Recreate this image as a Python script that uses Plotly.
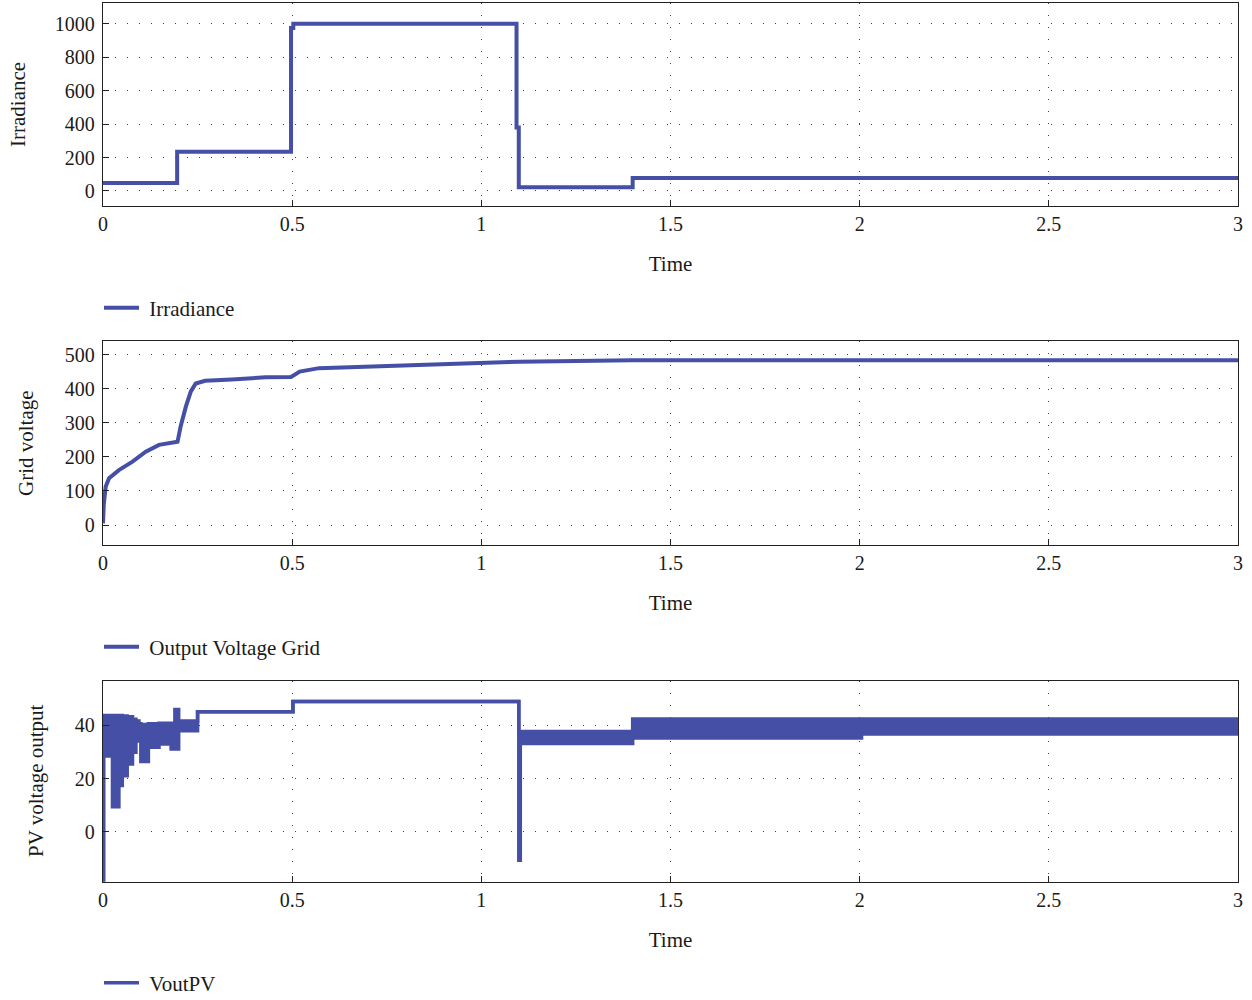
import plotly.graph_objects as go
from plotly.subplots import make_subplots

# ---------------- data ----------------
# Irradiance (step signal)
irr_t = [0.0, 0.196, 0.497, 0.503, 1.093, 1.099, 1.400, 3.0]
irr_v = [48, 235, 975, 1000, 380, 22, 77, 77]

# Grid output voltage
grid_t = [0.0, 0.002, 0.007, 0.016, 0.042, 0.078, 0.113, 0.148, 0.197, 0.205, 0.219,
          0.232, 0.245, 0.27, 0.34, 0.43, 0.497, 0.52, 0.571, 0.73, 0.85, 1.0, 1.1,
          1.4, 2.0, 2.5, 3.0]
grid_v = [5, 60, 112, 137, 161, 186, 215, 235, 244, 288, 347,
          391, 415, 423, 427, 433, 434, 450, 460, 466, 472, 477, 479,
          483, 483, 483, 483]

# PV output voltage: upper / lower envelope of the fast ripple
pv_t  = [0.0, 0.002, 0.020, 0.025, 0.037, 0.042, 0.051, 0.064, 0.078, 0.087, 0.095,
         0.100, 0.115, 0.120, 0.148, 0.180, 0.190, 0.200, 0.237, 0.250, 0.497,
         0.502, 1.093, 1.099, 1.103, 1.397, 1.400, 2.000, 2.005, 3.0]
pv_hi = [43.6, 43.6, 43.6, 43.6, 43.6, 43.6, 43.4, 43.1, 42.2, 41.5, 40.5,
         40.2, 40.2, 40.5, 40.7, 40.7, 45.8, 41.5, 41.5, 45.0, 45.0,
         48.8, 48.8, 37.6, 37.6, 37.6, 42.3, 42.3, 42.3, 42.3]
pv_lo = [-18.0, 28.4, 28.4, 9.4, 9.4, 17.4, 21.0, 25.4, 29.8, 34.0, 40.2,
         26.4, 26.4, 31.7, 32.9, 31.0, 31.0, 37.9, 37.9, 45.0, 45.0,
         48.8, 48.8, -10.6, 33.1, 33.1, 35.2, 35.2, 36.7, 36.7]

x_ticks = [0, 0.5, 1, 1.5, 2, 2.5, 3]
x_tick_text = ["0", "0.5", "1", "1.5", "2", "2.5", "3"]

ytitles = ["Irradiance", "Grid voltage", "PV voltage output"]
legend_names = ["Irradiance", "Output Voltage Grid", "VoutPV"]

LINE = "#444fa5"
FONT = "Liberation Serif"
TXT = "#1a1a1a"
W, H = 1252, 1000
ML, MR = 103, 14

fig = make_subplots(rows=3, cols=1)

fig.add_trace(go.Scatter(x=irr_t, y=irr_v, mode="lines", line=dict(color=LINE, width=4, shape="hv"),
                         name="\u00a0" + legend_names[0], legend="legend"), row=1, col=1)
fig.add_trace(go.Scatter(x=grid_t, y=grid_v, mode="lines", line=dict(color=LINE, width=4),
                         name="\u00a0" + legend_names[1], legend="legend2"), row=2, col=1)
fig.add_trace(go.Scatter(x=pv_t, y=pv_lo, mode="lines", line=dict(color=LINE, width=3.5, shape="hv"),
                         name="\u00a0" + legend_names[2], legend="legend3"), row=3, col=1)
fig.add_trace(go.Scatter(x=pv_t, y=pv_hi, mode="lines", line=dict(color=LINE, width=3.5, shape="hv"),
                         fill="tonexty", fillcolor=LINE, showlegend=False), row=3, col=1)

domains = [(0.794, 0.997), (0.455, 0.659), (0.118, 0.319)]
yranges = [(-90, 1124), (-58.6, 539.6), (-18.75, 56.5)]
ydticks = [200, 100, 20]

axis_common = dict(showline=True, linecolor="#222", linewidth=1.3, mirror=True,
                   ticks="inside", ticklen=6, tickcolor="#222", tickwidth=1.3,
                   showgrid=True, gridcolor="#444", gridwidth=1.4, griddash="1.4px,10.6px",
                   zeroline=False, tickfont=dict(family=FONT, size=20, color=TXT))

for i in range(3):
    xa = "xaxis" if i == 0 else f"xaxis{i+1}"
    ya = "yaxis" if i == 0 else f"yaxis{i+1}"
    fig.layout[xa].update(domain=[0, 1], range=[0, 3], tickvals=x_ticks, ticktext=x_tick_text,
                          title=dict(text="Time", font=dict(family=FONT, size=21, color=TXT), standoff=22),
                          **axis_common)
    fig.layout[ya].update(domain=list(domains[i]), range=list(yranges[i]), dtick=ydticks[i], tick0=0,
                          ticklabelstandoff=3, **axis_common)

# y-axis titles (rotated text), centred like the reference
ytitle_px = [(18, 105), (26, 443), (36, 781)]
for (px, py), txt in zip(ytitle_px, ytitles):
    fig.add_annotation(text=txt, xref="paper", yref="paper",
                       x=(px - ML) / (W - ML - MR), y=1 - py / H,
                       xanchor="center", yanchor="middle", textangle=-90, showarrow=False,
                       font=dict(family=FONT, size=21, color=TXT))

leg_y = [308, 647, 983]
for i, name in enumerate(["legend", "legend2", "legend3"]):
    fig.layout[name] = dict(xref="container", yref="container", x=99 / W, y=1 - leg_y[i] / H,
                            xanchor="left", yanchor="middle", bgcolor="rgba(0,0,0,0)",
                            font=dict(family=FONT, size=21, color=TXT), itemwidth=35)

fig.update_layout(width=W, height=H, margin=dict(l=ML, r=MR, t=0, b=0, autoexpand=False),
                  plot_bgcolor="white", paper_bgcolor="white", showlegend=True)

fig.write_html("out.html")
